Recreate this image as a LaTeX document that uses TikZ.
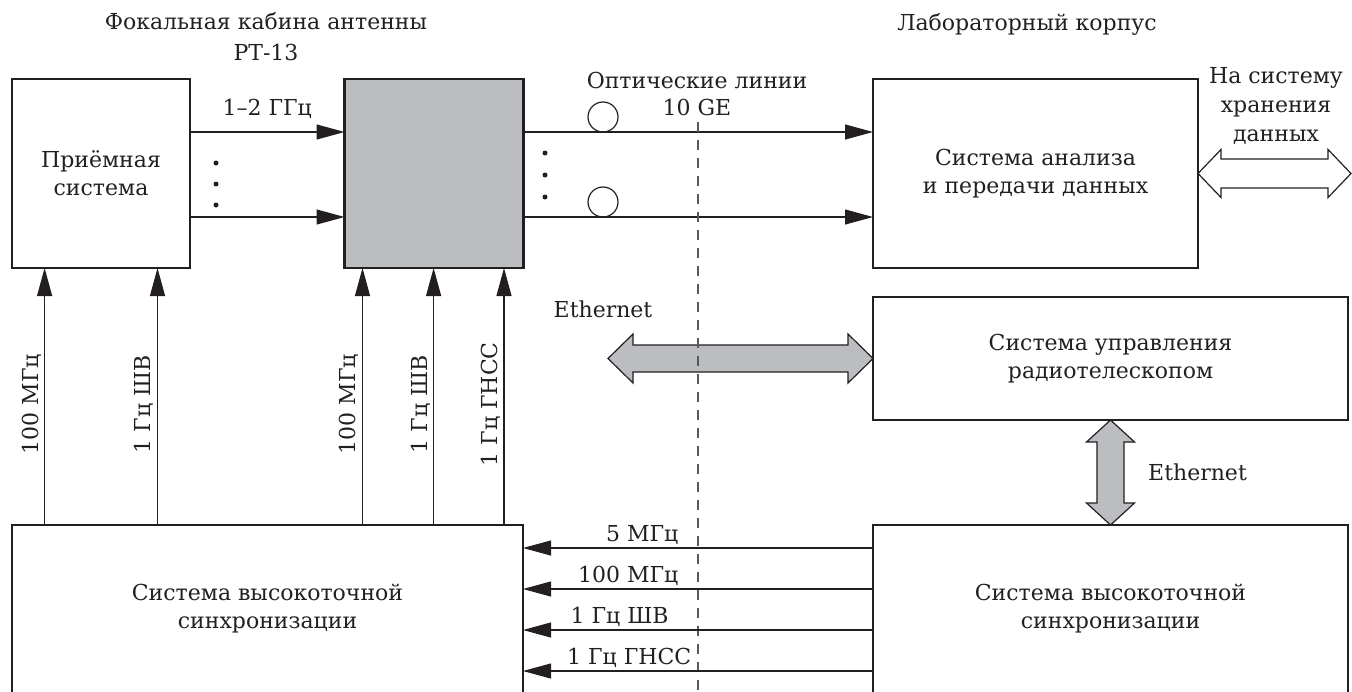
\documentclass[tikz,border=0pt]{standalone}
\usepackage{fontspec}
\setmainfont{DejaVu Serif}
\usepackage{tikz}
\usetikzlibrary{arrows.meta, positioning}
\definecolor{ink}{HTML}{231F20}
\definecolor{boxgrey}{HTML}{BCBDC1}
\definecolor{dashgrey}{HTML}{58595B}

\begin{document}
\begin{tikzpicture}[x=0.5pt, y=-0.5pt, text=ink,
  font=\fontsize{11}{14}\selectfont,
  block/.style={draw=ink, line width=1.3pt, outer sep=0pt, inner sep=0pt, align=center},
  sig/.style={draw=ink, line width=0.55pt, -{Triangle[length=14pt,width=7.5pt]}},
  lbl/.style={inner sep=1.5pt},
  fat/.style={draw=ink, line width=0.6pt, fill=boxgrey, line join=miter}]
  \useasboundingbox (0,0) rectangle (1352,691);
  \clip (0,0) rectangle (1352,691);
  % headings
  \node[align=center, font=\fontsize{11}{15.5}\selectfont] (cabin) at (266,37) {Фокальная кабина антенны\\РТ-13};
  \node (lab) at (1027,24) {Лабораторный корпус};
  % blocks
  \node[block, minimum width=89pt, minimum height=94.5pt] (recv) at (101,173.5) {Приёмная\\система};
  \node[block, fill=boxgrey, minimum width=89.5pt, minimum height=94.5pt] (conv) at (434,173.5) {};
  \node[block, minimum width=162.5pt, minimum height=94.5pt] (anal) at (1035.5,173.5) {Система анализа\\и передачи данных};
  \node[block, minimum width=237.5pt, minimum height=61.5pt] (ctrl) at (1110.5,358.5) {Система управления\\радиотелескопом};
  \node[block, minimum width=255.5pt, minimum height=84pt] (syncL) at (267.5,609) {Система высокоточной\\синхронизации};
  \node[block, minimum width=237.5pt, minimum height=84pt] (syncR) at (1110.5,609) {Система высокоточной\\синхронизации};
  % rows and columns
  \coordinate (rowA) at (0,132);
  \coordinate (rowB) at (0,217);
  \coordinate (colA) at (44.6,0);
  \coordinate (colB) at (157.5,0);
  \coordinate (colC) at (362.5,0);
  \coordinate (colD) at (433.6,0);
  \coordinate (colE) at (504,0);
  \coordinate (sA) at (0,548);
  \coordinate (sB) at (0,589);
  \coordinate (sC) at (0,630);
  \coordinate (sD) at (0,671);
  % RF lines
  \draw[sig] (recv.east |- rowA) -- node[lbl, above=5pt] (rf) {1–2 ГГц} (conv.west |- rowA);
  \draw[sig] (recv.east |- rowB) -- (conv.west |- rowB);
  \foreach \y in {163,184,205} \fill[ink] (216,\y) circle[radius=1.25pt];
  % optical lines
  \draw[sig] (conv.east |- rowA) -- (anal.west |- rowA);
  \draw[sig] (conv.east |- rowB) -- (anal.west |- rowB);
  \node[draw=ink, circle, minimum size=15pt, inner sep=0pt, line width=0.6pt] (loopA) at (603,117) {};
  \node[draw=ink, circle, minimum size=15pt, inner sep=0pt, line width=0.6pt] (loopB) at (603,202) {};
  \foreach \y in {153,175,197} \fill[ink] (545,\y) circle[radius=1.25pt];
  \node[align=center, font=\fontsize{11}{13.5}\selectfont] (optic) at (697,93.5) {Оптические линии\\10 GE};
  % storage
  \draw[fat, fill=white] (anal.east) -- ++(23,-24) -- ++(0,9.5) -- ++(107,0) -- ++(0,-9.5) -- ++(23,24)
    -- ++(-23,24) -- ++(0,-9.5) -- ++(-107,0) -- ++(0,9.5) -- cycle;
  \node[align=center, font=\fontsize{11}{14.5}\selectfont] (store) at (1276,106) {На систему\\хранения\\данных};
  % ethernet
  \draw[fat] (ctrl.west) -- ++(-25,-24.5) -- ++(0,11) -- ++(-215,0) -- ++(0,-11) -- ++(-25,24.5)
    -- ++(25,24.5) -- ++(0,-11) -- ++(215,0) -- ++(0,11) -- cycle;
  \node (ethA) at (603,309) {Ethernet};
  \draw[fat] (ctrl.south) -- ++(24,22) -- ++(-10.5,0) -- ++(0,61) -- ++(10.5,0) -- ++(-24,22)
    -- ++(-24,-22) -- ++(10.5,0) -- ++(0,-61) -- ++(-10.5,0) -- cycle;
  \node (ethB) at (1197.5,472) {Ethernet};
  % boundary
  \coordinate (bordTop) at (698,122);
  \coordinate (bordBot) at (698,691);
  \draw[dashgrey, line width=0.8pt, dash pattern=on 5pt off 4pt] (bordTop) -- (bordBot);
  % sync to cabin
  \draw[sig] (syncL.north -| colA) -- node[lbl, pos=.47, sloped, above] (tA) {100 МГц} (recv.south -| colA);
  \draw[sig] (syncL.north -| colB) -- node[lbl, pos=.47, sloped, above] (tB) {1 Гц ШВ} (recv.south -| colB);
  \draw[sig] (syncL.north -| colC) -- node[lbl, pos=.47, sloped, above] (tC) {100 МГц} (conv.south -| colC);
  \draw[sig] (syncL.north -| colD) -- node[lbl, pos=.47, sloped, above] (tD) {1 Гц ШВ} (conv.south -| colD);
  \draw[sig] (syncL.north -| colE) -- node[lbl, pos=.47, sloped, above] (tE) {1 Гц ГНСС} (conv.south -| colE);
  % sync to sync
  \draw[sig] (syncR.west |- sA) -- node[lbl, pos=.546, above left] (tF) {5 МГц} (syncL.east |- sA);
  \draw[sig] (syncR.west |- sB) -- node[lbl, pos=.546, above left] (tG) {100 МГц} (syncL.east |- sB);
  \draw[sig] (syncR.west |- sC) -- node[lbl, pos=.574, above left] (tH) {1 Гц ШВ} (syncL.east |- sC);
  \draw[sig] (syncR.west |- sD) -- node[lbl, pos=.509, above left] (tI) {1 Гц ГНСС} (syncL.east |- sD);
\end{tikzpicture}
\end{document}
